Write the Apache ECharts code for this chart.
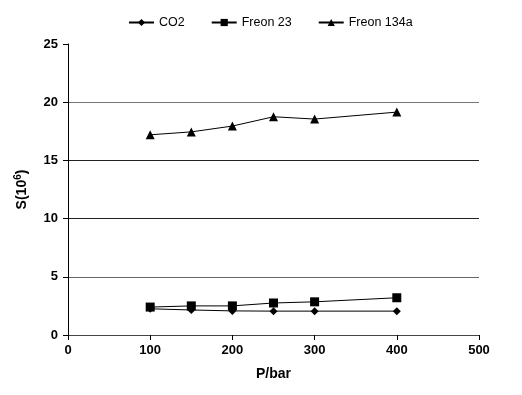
<!DOCTYPE html>
<html><head><meta charset="utf-8">
<script src="https://cdn.jsdelivr.net/npm/echarts@6/dist/echarts.min.js"></script>
<style>html,body{margin:0;padding:0;background:#fff}#c{width:522px;height:395px}</style>
</head><body><div id="c"></div>
<script>
const pressures = [100, 150, 200, 250, 300, 400];
const co2 = [2.25, 2.15, 2.07, 2.05, 2.05, 2.05];
const freon23 = [2.4, 2.5, 2.5, 2.75, 2.85, 3.2];
const freon134a = [17.2, 17.45, 17.95, 18.75, 18.55, 19.15];
const seriesNames = ['CO2', 'Freon 23', 'Freon 134a'];

const pairs = arr => pressures.map((p, i) => [p, arr[i]]);
const font = 'Liberation Sans, Arial, sans-serif';
const chart = echarts.init(document.getElementById('c'));
const mk = (name, data, symbol, size) => ({
  name, type: 'line', data: pairs(data), symbol, symbolSize: size,
  itemStyle: {color: '#000'}, lineStyle: {color: '#000', width: 1}, animation: false
});
chart.setOption({
  animation: false,
  textStyle: {fontFamily: font},
  legend: {
    top: 11, left: 123, itemGap: 26, itemWidth: 25, itemHeight: 9,
    textStyle: {fontSize: 12.5, color: '#000', fontFamily: font},
    data: seriesNames
  },
  grid: {left: 68, right: 43, top: 44, bottom: 60},
  xAxis: {
    type: 'value', min: 0, max: 500, interval: 100,
    name: 'P/bar', nameLocation: 'middle', nameGap: 32,
    nameTextStyle: {fontSize: 14, fontWeight: 'bold', color: '#000', fontFamily: font},
    axisLine: {lineStyle: {color: '#444', width: 1}},
    axisTick: {show: true, length: 5, lineStyle: {color: '#000'}},
    axisLabel: {fontSize: 13, fontWeight: 'bold', color: '#000', margin: 9, fontFamily: font},
    splitLine: {show: false}
  },
  yAxis: {
    type: 'value', min: 0, max: 25, interval: 5,
    name: 'S(10{sup|6})', nameLocation: 'middle', nameGap: 36, nameRotate: 90,
    nameTextStyle: {
      fontSize: 14, fontWeight: 'bold', color: '#000', fontFamily: font,
      rich: {sup: {fontSize: 10, fontWeight: 'bold', color: '#000', fontFamily: font, padding: [0, 0, 9, 0]}}
    },
    axisLine: {show: true, lineStyle: {color: '#000', width: 1}},
    axisTick: {show: true, length: 5, lineStyle: {color: '#000'}},
    axisLabel: {fontSize: 13, fontWeight: 'bold', color: '#000', margin: 10, fontFamily: font},
    splitLine: {show: true, lineStyle: {color: ['#444', '#666', '#222', '#222', '#777', 'rgba(0,0,0,0)'], width: 1}}
  },
  series: [
    mk(seriesNames[0], co2, 'diamond', 8),
    mk(seriesNames[1], freon23, 'rect', 9),
    mk(seriesNames[2], freon134a, 'triangle', 9)
  ]
});
</script></body></html>
